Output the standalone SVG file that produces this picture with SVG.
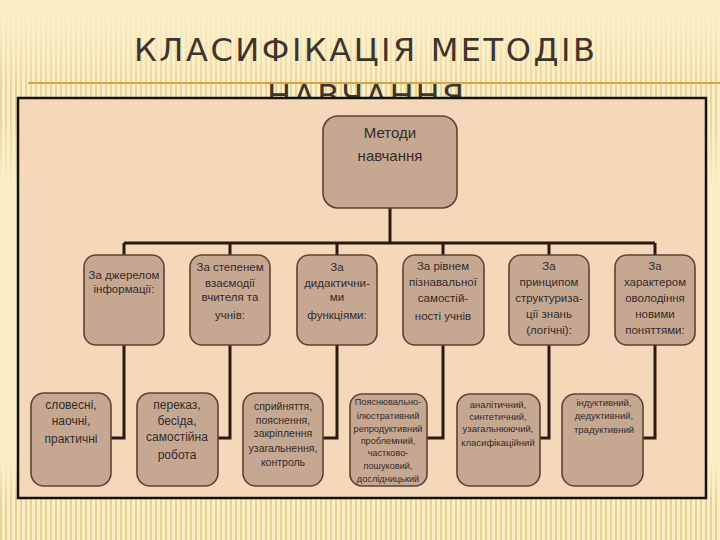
<svg xmlns="http://www.w3.org/2000/svg" width="720" height="540" viewBox="0 0 720 540">
<defs>
<pattern id="stripes" width="5" height="10" patternUnits="userSpaceOnUse">
<rect x="0" y="0" width="2" height="10" fill="#e2c886"/>
</pattern>
<linearGradient id="fade" x1="0" y1="0" x2="0" y2="1">
<stop offset="0" stop-color="#fff" stop-opacity="0"/>
<stop offset="0.06" stop-color="#fff" stop-opacity="0.15"/>
<stop offset="0.16" stop-color="#fff" stop-opacity="0.7"/>
<stop offset="0.22" stop-color="#fff" stop-opacity="0.7"/>
<stop offset="0.35" stop-color="#fff" stop-opacity="0"/>
<stop offset="0.85" stop-color="#fff" stop-opacity="0"/>
<stop offset="0.93" stop-color="#fff" stop-opacity="0.75"/>
<stop offset="1" stop-color="#fff" stop-opacity="0.8"/>
</linearGradient>
<mask id="m"><rect width="720" height="540" fill="url(#fade)"/></mask>
<style>
.node{fill:#c6a792;stroke:#5e4234;stroke-width:1.6}
.t{font-family:"Liberation Sans",Arial,sans-serif;fill:#342b2b;text-anchor:middle}
.l2{font-size:11.5px}
.conn{fill:none;stroke:#2a1a12;stroke-width:3}
.title{font-family:"DejaVu Sans","Liberation Sans",sans-serif;font-size:32px;fill:#3d342c}
</style>
</defs>
<rect width="720" height="540" fill="#fcefc8"/>
<rect width="720" height="540" fill="url(#stripes)" mask="url(#m)"/>
<g id="title">
<text class="title" x="134" y="61" textLength="461" lengthAdjust="spacing">КЛАСИФІКАЦІЯ МЕТОДІВ</text>
<text class="title" x="267" y="107" textLength="197" lengthAdjust="spacing">НАВЧАННЯ</text>
</g>
<line x1="28" y1="83" x2="720" y2="83" stroke="#d9a243" stroke-width="2"/>
<rect x="18" y="98" width="688" height="400" fill="#f5d7b9" stroke="#111" stroke-width="2.5"/>
<g id="connectors">
<path class="conn" d="M390 208V243M124 243H655M124 243V255M230 243V255M337 243V255M443 243V255M549 243V255M655 243V255"/>
<path class="conn" d="M124 345V438H111M230 345V438H218M337 345V438H323M443 345V438H427M549 345V438H540M655 345V438H643"/>
</g>
<g id="root">
<rect class="node" x="323" y="116" width="134" height="92" rx="15"/>
<text class="t" x="390" y="138" font-size="15">Методи</text>
<text class="t" x="390" y="161" font-size="15">навчання</text>
</g>
<g id="c1">
<rect class="node" x="84" y="255" width="80" height="90" rx="12"/>
<text class="t l2" x="124" y="279">За джерелом</text>
<text class="t l2" x="124" y="293">інформації:</text>
</g>
<g id="c2">
<rect class="node" x="190" y="255" width="80" height="90" rx="12"/>
<text class="t l2" x="230" y="271">За степенем</text>
<text class="t l2" x="230" y="287">взаємодії</text>
<text class="t l2" x="230" y="301">вчителя та</text>
<text class="t l2" x="230" y="319">учнів:</text>
</g>
<g id="c3">
<rect class="node" x="297" y="255" width="80" height="90" rx="12"/>
<text class="t l2" x="337" y="271">За</text>
<text class="t l2" x="337" y="287">дидактични-</text>
<text class="t l2" x="337" y="301">ми</text>
<text class="t l2" x="337" y="319">функціями:</text>
</g>
<g id="c4">
<rect class="node" x="403" y="255" width="81" height="90" rx="12"/>
<text class="t l2" x="443" y="270">За рівнем</text>
<text class="t l2" x="443" y="286">пізнавальної</text>
<text class="t l2" x="443" y="302">самостій-</text>
<text class="t l2" x="443" y="320">ності учнів</text>
</g>
<g id="c5">
<rect class="node" x="509" y="255" width="80" height="90" rx="12"/>
<text class="t l2" x="549" y="270">За</text>
<text class="t l2" x="549" y="286">принципом</text>
<text class="t l2" x="549" y="302">структуриза-</text>
<text class="t l2" x="549" y="318">ції знань</text>
<text class="t l2" x="549" y="334">(логічні):</text>
</g>
<g id="c6">
<rect class="node" x="615" y="255" width="80" height="90" rx="12"/>
<text class="t l2" x="655" y="270">За</text>
<text class="t l2" x="655" y="286">характером</text>
<text class="t l2" x="655" y="302">оволодіння</text>
<text class="t l2" x="655" y="318">новими</text>
<text class="t l2" x="655" y="334">поняттями:</text>
</g>
<g id="d1">
<rect class="node" x="31" y="393" width="80" height="93" rx="13"/>
<text class="t" x="71" y="409" font-size="12">словесні,</text>
<text class="t" x="71" y="425" font-size="12">наочні,</text>
<text class="t" x="71" y="443" font-size="12">практичні</text>
</g>
<g id="d2">
<rect class="node" x="137" y="393" width="81" height="93" rx="13"/>
<text class="t" x="177" y="409" font-size="12">переказ,</text>
<text class="t" x="177" y="425" font-size="12">бесіда,</text>
<text class="t" x="177" y="441" font-size="12">самостійна</text>
<text class="t" x="177" y="459" font-size="12">робота</text>
</g>
<g id="d3">
<rect class="node" x="243" y="393" width="80" height="93" rx="13"/>
<text class="t" x="283" y="410" font-size="10.5">сприйняття,</text>
<text class="t" x="283" y="424" font-size="10.5">пояснення,</text>
<text class="t" x="283" y="437" font-size="10.5">закріплення</text>
<text class="t" x="283" y="452" font-size="10.5">узагальнення,</text>
<text class="t" x="283" y="466" font-size="10.5">контроль</text>
</g>
<g id="d4">
<rect class="node" x="350" y="394" width="77" height="92" rx="12"/>
<text class="t" x="388" y="405" font-size="9.2">Пояснювально-</text>
<text class="t" x="388" y="419" font-size="9.2">ілюстративний</text>
<text class="t" x="388" y="432" font-size="9.2">репродуктивний</text>
<text class="t" x="388" y="444" font-size="9.2">проблемний,</text>
<text class="t" x="388" y="456" font-size="9.2">частково-</text>
<text class="t" x="388" y="469" font-size="9.2">пошуковий,</text>
<text class="t" x="388" y="482" font-size="9.2">дослідницький</text>
</g>
<g id="d5">
<rect class="node" x="457" y="394" width="83" height="92" rx="13"/>
<text class="t" x="498" y="408" font-size="9.5">аналітичний,</text>
<text class="t" x="498" y="420" font-size="9.5">синтетичний,</text>
<text class="t" x="498" y="432" font-size="9.5">узагальнюючий,</text>
<text class="t" x="498" y="446" font-size="9.5">класифікаційний</text>
</g>
<g id="d6">
<rect class="node" x="562" y="394" width="81" height="92" rx="13"/>
<text class="t" x="604" y="406" font-size="9.5">індуктивний,</text>
<text class="t" x="604" y="419" font-size="9.5">дедуктивний,</text>
<text class="t" x="604" y="433" font-size="9.5">традуктивний</text>
</g>
</svg>
